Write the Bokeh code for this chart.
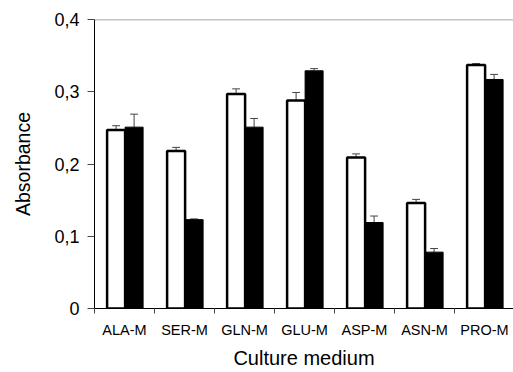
from bokeh.plotting import figure
from bokeh.models import FixedTicker, Span, ColumnDataSource, Title
from bokeh.embed import file_html
from bokeh.resources import INLINE

categories = ["ALA-M", "SER-M", "GLN-M", "GLU-M", "ASP-M", "ASN-M", "PRO-M"]
white_vals = [0.247, 0.218, 0.297, 0.288, 0.209, 0.146, 0.337]
white_err = [0.006, 0.005, 0.007, 0.011, 0.005, 0.005, 0.002]
black_vals = [0.251, 0.123, 0.251, 0.329, 0.119, 0.078, 0.317]
black_err = [0.018, 0.001, 0.012, 0.003, 0.009, 0.005, 0.007]
y_ticks = [0, 0.1, 0.2, 0.3, 0.4]
y_tick_labels = ["0", "0,1", "0,2", "0,3", "0,4"]

FONT = "Liberation Sans"
n = len(categories)
bar_w = 0.3
off_white = 0.36
off_black = 0.66
cap_half = 0.065

p = figure(width=513, height=372, output_backend="svg", toolbar_location=None,
           x_range=(0, 419 / 60), y_range=(0, 0.4),
           min_border_left=94, min_border_right=0, min_border_top=19, min_border_bottom=64)
p.outline_line_color = None
p.background_fill_color = "white"
p.border_fill_color = "white"
p.xgrid.visible = False
p.ygrid.visible = False

xw = [i + off_white for i in range(n)]
xb = [i + off_black for i in range(n)]

src_w = ColumnDataSource(dict(x=xw, top=white_vals,
                              etop=[v + e for v, e in zip(white_vals, white_err)],
                              x0=[x - cap_half for x in xw], x1=[x + cap_half for x in xw]))
src_b = ColumnDataSource(dict(x=xb, top=black_vals,
                              etop=[v + e for v, e in zip(black_vals, black_err)],
                              x0=[x - cap_half for x in xb], x1=[x + cap_half for x in xb]))

for src in (src_w, src_b):
    p.segment(x0="x", y0="top", x1="x", y1="etop", source=src, line_color="#444444", line_width=1)
    p.segment(x0="x0", y0="etop", x1="x1", y1="etop", source=src, line_color="#444444", line_width=1)

p.vbar(x="x", top="top", bottom=0, width=bar_w, source=src_w,
       fill_color="white", line_color="black", line_width=2.5)
p.vbar(x="x", top="top", bottom=0, width=bar_w, source=src_b,
       fill_color="black", line_color="black", line_width=1)

p.add_layout(Span(location=0.4, dimension="width", line_color="#888888", line_width=1.5))

# y axis
p.yaxis.ticker = FixedTicker(ticks=y_ticks, minor_ticks=[])
p.yaxis.major_label_overrides = {t: l for t, l in zip(y_ticks, y_tick_labels)}
p.yaxis.major_tick_out = 7
p.yaxis.major_tick_in = 0
p.yaxis.minor_tick_out = 0
p.yaxis.major_label_standoff = 8
p.yaxis.major_label_text_font = FONT
p.yaxis.major_label_text_font_size = "18px"
p.yaxis.major_label_text_color = "black"
p.yaxis.axis_label = "Absorbance"
p.yaxis.axis_label_text_font = FONT
p.yaxis.axis_label_text_font_size = "19.5px"
p.yaxis.axis_label_text_font_style = "normal"
p.yaxis.axis_label_text_color = "black"
p.yaxis.axis_label_standoff = 17
p.yaxis.axis_line_color = "black"
p.yaxis.major_tick_line_color = "#444444"

# x axis
centers = [i + 0.5 for i in range(n)]
p.xaxis.ticker = FixedTicker(ticks=centers, minor_ticks=list(range(n)))
p.xaxis.major_label_overrides = {c: l for c, l in zip(centers, categories)}
p.xaxis.major_tick_out = 0
p.xaxis.major_tick_in = 0
p.xaxis.minor_tick_out = 5
p.xaxis.minor_tick_in = 0
p.xaxis.minor_tick_line_color = "#444444"
p.xaxis.major_label_standoff = 8
p.xaxis.major_label_text_font = FONT
p.xaxis.major_label_text_font_size = "14.5px"
p.xaxis.major_label_text_color = "black"
p.xaxis.axis_line_color = "black"

p.add_layout(Title(text="Culture medium", align="center", text_font=FONT,
                   text_font_size="20px", text_font_style="normal", text_color="black",
                   standoff=8), "below")

open("out.html", "w").write(file_html(p, INLINE))
